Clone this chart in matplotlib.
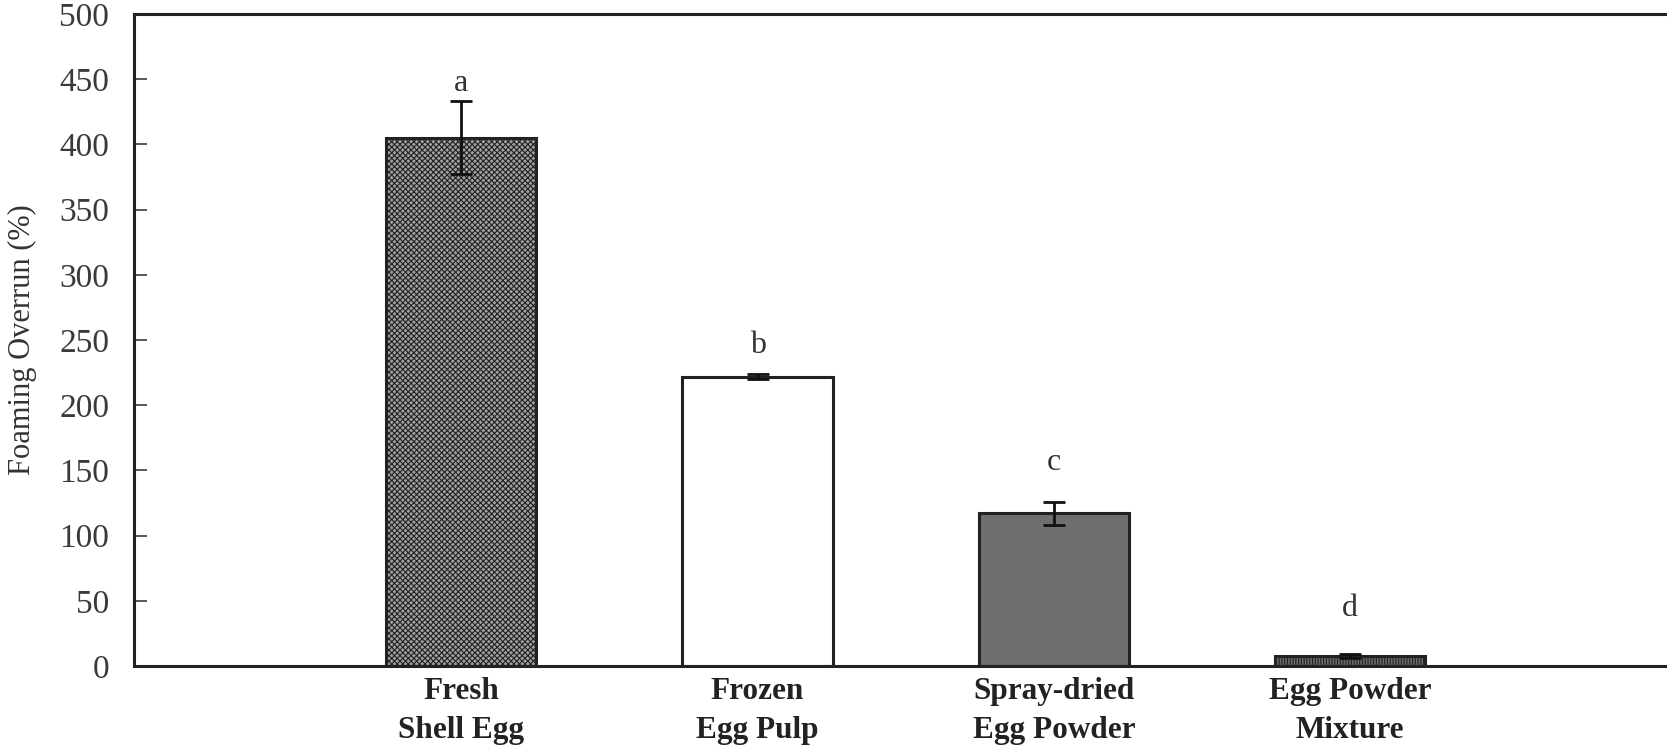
import matplotlib
matplotlib.use("Agg")
import matplotlib.pyplot as plt

# samples and foaming overrun (%) with error bars
samples = ["Fresh\nShell Egg", "Frozen\nEgg Pulp", "Spray-dried\nEgg Powder", "Egg Powder\nMixture"]
overrun = [405, 222, 117, 8]
errors = [28, 2, 9, 1.5]
letters = ["a", "b", "c", "d"]
letter_y = [447, 246, 156, 44]

plt.rcParams['font.family'] = ['Liberation Serif', 'DejaVu Serif']
plt.rcParams['hatch.linewidth'] = 0.8

fig = plt.figure(figsize=(16.67, 7.5), dpi=100)
ax = fig.add_axes([0.0804, 0.112, 0.9196, 0.8693])

x = list(range(len(samples)))
faces = ['#a0a0a0', 'white', '#6f6f6f', '#6a6a6a']
hatches = ['xxxxxx', None, None, '||||||']
bars = ax.bar(x, overrun, width=0.507, color=faces, edgecolor='#222222', linewidth=2.2)
for b, h in zip(bars, hatches):
    if h:
        b.set_hatch(h)
ax.errorbar(x, overrun, yerr=errors, fmt='none', ecolor='#111111',
            elinewidth=2, capsize=8, capthick=2)

for xi, lab, ly in zip(x, letters, letter_y):
    ax.text(xi, ly, lab, ha='center', va='center', fontsize=23, color='#333333')

ax.set_xlim(-1.105, 4.07)
ax.set_ylim(0, 500)
ax.set_yticks(range(0, 501, 50))
ax.set_xticks(x)
ax.set_xticklabels(samples, fontweight='bold', fontsize=22.5, linespacing=1.45)
ax.tick_params(axis='y', direction='in', length=9, width=1.2, labelsize=24, pad=18,
               colors='#3a3a3a')
ax.tick_params(axis='x', length=0, pad=8, colors='#222222')
ax.set_ylabel("Foaming Overrun (%)", fontsize=22, color='#333333')
ax.yaxis.set_label_coords(-0.063, 0.5)

for s in ['left', 'top', 'bottom']:
    ax.spines[s].set_linewidth(2.2)
    ax.spines[s].set_color('#222222')
ax.spines['right'].set_visible(False)

fig.savefig("out.png", dpi=100)
